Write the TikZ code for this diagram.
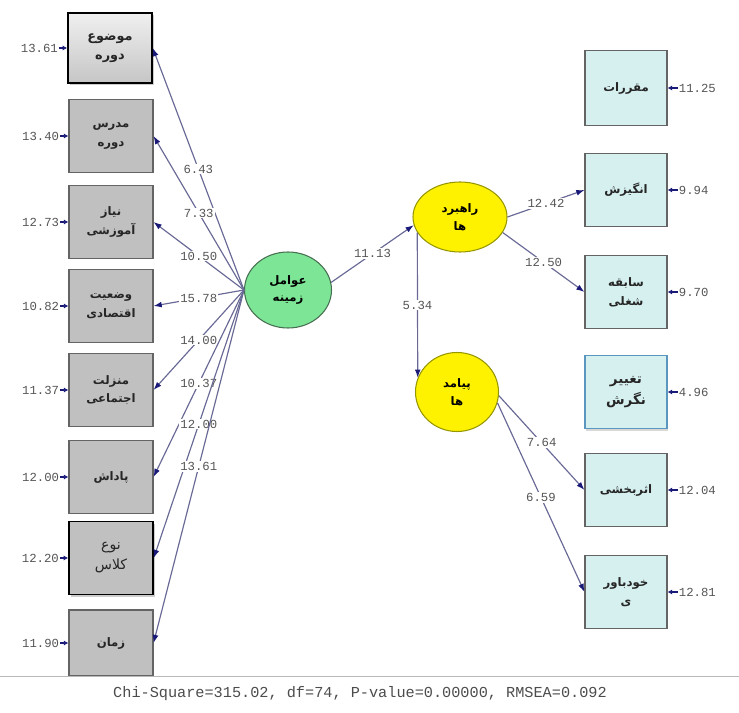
\documentclass[tikz,border=0pt]{standalone}
\usepackage{fontspec}
\usetikzlibrary{positioning,shapes.geometric,arrows.meta,shadows}
\newfontfamily\arabicfont[Script=Arabic]{DejaVu Sans}
\newfontfamily\numfont{Liberation Mono}
\TeXXeTstate=1
\newcommand{\fa}[1]{\beginR #1\endR}
\definecolor{boxgray}{RGB}{192,192,192}
\definecolor{boxedge}{RGB}{100,100,100}
\definecolor{boxcyan}{RGB}{214,240,240}
\definecolor{greenfill}{RGB}{125,230,150}
\definecolor{greenedge}{RGB}{70,110,80}
\definecolor{yellowedge}{RGB}{150,150,0}
\definecolor{linkcol}{RGB}{105,105,150}
\definecolor{tipcol}{RGB}{25,25,120}
\definecolor{numcol}{RGB}{85,85,85}
\definecolor{taghiredge}{RGB}{90,150,190}

\begin{document}
\begin{tikzpicture}[x=0.03cm,y=-0.03cm,
    lbox/.style={draw=boxedge,fill=boxgray,line width=0.9pt,minimum width=2.52cm,minimum height=2.19cm,
        align=center,text=black!85,font=\arabicfont\bfseries\fontsize{10}{16}\selectfont},
    rbox/.style={lbox,fill=boxcyan,minimum width=2.46cm},
    latent/.style={ellipse,draw,line width=0.9pt,inner sep=0pt,align=center,
        font=\arabicfont\bfseries\fontsize{10}{15}\selectfont},
    link/.style={draw=linkcol,line width=1pt,-{Latex[length=7pt,width=5pt,color=tipcol]}},
    coef/.style={fill=white,inner sep=1pt,text=numcol,font=\numfont\fontsize{10.5}{12}\selectfont},
    errnum/.style={inner sep=1pt,text=numcol,font=\numfont\fontsize{10.5}{12}\selectfont},
    errarr/.style={draw=tipcol,line width=1pt,-{Latex[length=4pt,width=4.5pt]}}]
    \useasboundingbox (0,0) rectangle (739,713);

    % left indicators
    \node[lbox,draw=black,line width=1.3pt,top color=gray!12,bottom color=gray!45,minimum height=2.1cm,
        drop shadow={shadow xshift=2pt,shadow yshift=-2pt,fill=gray!80},
        font=\arabicfont\bfseries\fontsize{11}{16}\selectfont] (mawzu) at (110,48) {\fa{موضوع}\\\fa{دوره}};
    \node[lbox] (modares) at (111,136) {\fa{مدرس}\\\fa{دوره}};
    \node[lbox] (niaz) at (111,222) {\fa{نیاز}\\\fa{آموزشی}};
    \node[lbox] (vazeiat) at (111,306) {\fa{وضعیت}\\\fa{اقتصادی}};
    \node[lbox] (manzelat) at (111,390) {\fa{منزلت}\\\fa{اجتماعی}};
    \node[lbox] (padash) at (111,477) {\fa{پاداش}};
    \node[lbox,draw=black,line width=1.3pt,drop shadow={shadow xshift=2pt,shadow yshift=-2pt,fill=gray!80},
        font=\arabicfont\fontsize{12}{17}\selectfont] (noe) at (111,558) {\fa{نوع}\\\fa{کلاس}};
    \node[lbox,minimum height=1.98cm] (zaman) at (111,643) {\fa{زمان}};

    % error terms, left
    \node[errnum,left=0.24cm of mawzu] (e-mawzu) {13.61};
    \node[errnum,left=0.24cm of modares] (e-modares) {13.40};
    \node[errnum,left=0.24cm of niaz] (e-niaz) {12.73};
    \node[errnum,left=0.24cm of vazeiat] (e-vazeiat) {10.82};
    \node[errnum,left=0.24cm of manzelat] (e-manzelat) {11.37};
    \node[errnum,left=0.24cm of padash] (e-padash) {12.00};
    \node[errnum,left=0.24cm of noe] (e-noe) {12.20};
    \node[errnum,left=0.24cm of zaman] (e-zaman) {11.90};
    \foreach \n in {mawzu,modares,niaz,vazeiat,manzelat,padash,noe,zaman}
        \draw[errarr] (e-\n) -- (\n);

    % latent variables
    \node[latent,fill=greenfill,draw=greenedge,minimum width=2.61cm,minimum height=2.28cm] (zamine) at (288,290) {\fa{عوامل}\\\fa{زمینه}};
    \node[latent,fill=yellow,draw=yellowedge,minimum width=2.82cm,minimum height=2.1cm] (rahbord) at (460,217) {\fa{راهبرد}\\\fa{ها}};
    \node[latent,fill=yellow,draw=yellowedge,minimum width=2.49cm,minimum height=2.37cm] (payamad) at (457,392) {\fa{پیامد}\\\fa{ها}};

    % right indicators
    \node[rbox,minimum height=2.25cm] (moghararat) at (626,88) {\fa{مقررات}};
    \node[rbox] (angizesh) at (626,190) {\fa{انگیزش}};
    \node[rbox] (sabeghe) at (626,292) {\fa{سابقه}\\\fa{شغلی}};
    \node[rbox,draw=taghiredge,drop shadow={shadow xshift=1pt,shadow yshift=-2pt,fill=gray!60},
        font=\arabicfont\bfseries\fontsize{11.5}{18}\selectfont] (taghir) at (626,392) {\fa{تغییر}\\\fa{نگرش}};
    \node[rbox] (asar) at (626,490) {\fa{اثربخشی}};
    \node[rbox] (khodbavari) at (626,592) {\fa{خودباور}\\\fa{ی}};

    % error terms, right
    \node[errnum,right=0.3cm of moghararat] (e-moghararat) {11.25};
    \node[errnum,right=0.3cm of angizesh] (e-angizesh) {9.94};
    \node[errnum,right=0.3cm of sabeghe] (e-sabeghe) {9.70};
    \node[errnum,right=0.3cm of taghir] (e-taghir) {4.96};
    \node[errnum,right=0.3cm of asar] (e-asar) {12.04};
    \node[errnum,right=0.3cm of khodbavari] (e-khodbavari) {12.81};
    \foreach \n in {moghararat,angizesh,sabeghe,taghir,asar,khodbavari}
        \draw[errarr] (e-\n) -- (\n);

    % loadings
    \draw[link] (zamine.west) -- (mawzu.east) node[coef,pos=0.5] {6.43};
    \draw[link] (zamine.west) -- (modares.east) node[coef,pos=0.5] {7.33};
    \draw[link] (zamine.west) -- (niaz.east) node[coef,pos=0.5] {10.50};
    \draw[link] (zamine.west) -- (vazeiat.east) node[coef,pos=0.5] {15.78};
    \draw[link] (zamine.west) -- (manzelat.east) node[coef,pos=0.5] {14.00};
    \draw[link] (zamine.west) -- (padash.east) node[coef,pos=0.5] {10.37};
    \draw[link] (zamine.west) -- (noe.east) node[coef,pos=0.5] {12.00};
    \draw[link] (zamine.west) -- (zaman.east) node[coef,pos=0.5] {13.61};

    % structural paths
    \draw[link] (zamine.10) -- (rahbord.190) node[coef,pos=0.5] {11.13};
    \draw[link] (rahbord.200) -- (payamad.160) node[coef,pos=0.5] {5.34};
    \draw[link] (rahbord.east) -- (angizesh.west) node[coef,pos=0.5] {12.42};
    \draw[link] (rahbord.-20) -- (sabeghe.west) node[coef,pos=0.5] {12.50};
    \draw[link] (payamad.-5) -- (asar.west) node[coef,pos=0.5] {7.64};
    \draw[link] (payamad.-15) -- (khodbavari.west) node[coef,pos=0.5] {6.59};

    % fit indices
    \draw[gray!55,line width=0.8pt] (0,676) -- (739,676);
    \node[text=numcol!90!black,font=\numfont\fontsize{13}{15}\selectfont] (fit) at (360,694)
        {Chi-Square=315.02, df=74, P-value=0.00000, RMSEA=0.092};
\end{tikzpicture}
\end{document}
